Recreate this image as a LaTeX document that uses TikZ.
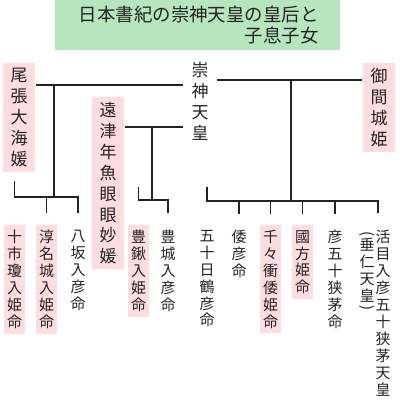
\documentclass[tikz,border=0pt]{standalone}
\usepackage{fontspec}
\newfontfamily\jp{Noto Sans CJK JP}
\usetikzlibrary{calc}
\definecolor{himePink}{RGB}{253,221,223}
\definecolor{titleGreen}{RGB}{182,229,190}
\definecolor{inkGray}{RGB}{35,35,35}

\begin{document}
\begin{tikzpicture}[x=1bp,y=-1bp,
  parent/.style={font=\jp\fontsize{17}{21}\selectfont, align=center, inner xsep=8bp, inner ysep=5bp, anchor=north, text=inkGray},
  kid/.style={font=\jp\fontsize{15}{17}\selectfont, align=center, inner xsep=3.5bp, inner ysep=5bp, anchor=north, text=inkGray},
  hime/.style={fill=himePink},
  link/.style={line width=1.6bp, draw=inkGray}]
  \useasboundingbox (0,0) rectangle (400,408);

  \node[fill=titleGreen, text=inkGray, font=\jp\fontsize{18.5}{22}\selectfont, align=right,
        text width=242bp, inner xsep=21.5bp, minimum height=50bp] (title) at (197.5,25)
        {日本書紀の崇神天皇の皇后と\\子息子女};

  % parents
  \node[parent] (sujin) at (200,57) {崇\\神\\天\\皇};
  \node[parent, hime] (owari) at (19,63) {尾\\張\\大\\海\\媛};
  \node[parent, hime] (toochi) at (108,97) {遠\\津\\年\\魚\\眼\\眼\\妙\\媛};
  \node[parent, hime] (mima) at (379,63) {御\\間\\城\\姫};

  % children
  \node[kid, hime] (toochini) at (14.5,225) {十\\市\\瓊\\入\\姫\\命};
  \node[kid, hime] (nunaki) at (46.5,225) {淳\\名\\城\\入\\姫\\命};
  \node[kid] (yasaka) at (78,225) {八\\坂\\入\\彦\\命};
  \node[kid, hime] (toyosuki) at (138.5,225) {豊\\鍬\\入\\姫\\命};
  \node[kid] (toyoki) at (168,225) {豊\\城\\入\\彦\\命};
  \node[kid] (isetsuru) at (207,225) {五\\十\\日\\鶴\\彦\\命};
  \node[kid] (yamatohiko) at (239,225) {倭\\彦\\命};
  \node[kid, hime] (chiji) at (270.5,225) {千\\々\\衝\\倭\\姫\\命};
  \node[kid, hime] (kunibu) at (302.5,225) {國\\方\\姫\\命};
  \node[kid] (hikoisasa) at (335,225) {彦\\五\\十\\狭\\茅\\命};
  \node[kid] (ikume) at (383,225) {活\\目\\入\\彦\\五\\十\\狭\\茅\\天\\皇};
  \node[kid] (suinin) at (367,226) {\rotatebox[origin=c]{-90}{(}\\[-5bp]垂\\仁\\天\\皇\\[-5bp]\rotatebox[origin=c]{-90}{)}};

  % marriages
  \coordinate (wedL) at (54,85);
  \coordinate (wedM) at (152,127);
  \coordinate (wedR) at (291,80);
  \draw[link] (owari.east |- wedL) -- (sujin.west |- wedL);
  \draw[link] (toochi.east |- wedM) -- (sujin.west |- wedM);
  \draw[link] (sujin.east |- wedR) -- (mima.west |- wedR);

  % sibling bars
  \coordinate (barL) at (54,197);
  \coordinate (barM) at (152,200);
  \coordinate (barR) at (291,201);
  \coordinate (kingdrop) at ($(ikume.north)!0.3!(suinin.north)$);
  \draw[link] (wedL) -- (barL);
  \draw[link] (wedM) -- (barM);
  \draw[link] (wedR) -- (barR);
  \draw[link] ([yshift=16]toochini.north |- barL) -- (toochini.north |- barL) -- (yasaka.north |- barL) -- ++(0,16);
  \draw[link] (nunaki.north |- barL) -- ++(0,16);
  \draw[link] ([yshift=13]toyosuki.north |- barM) -- (toyosuki.north |- barM) -- (toyoki.north |- barM) -- ++(0,13);
  \draw[link] ([yshift=14]isetsuru.north |- barR) -- (isetsuru.north |- barR) -- (kingdrop |- barR) -- ++(0,12);
  \foreach \k in {yamatohiko, chiji, kunibu, hikoisasa}
    \draw[link] (\k.north |- barR) -- ++(0,13);
\end{tikzpicture}
\end{document}
